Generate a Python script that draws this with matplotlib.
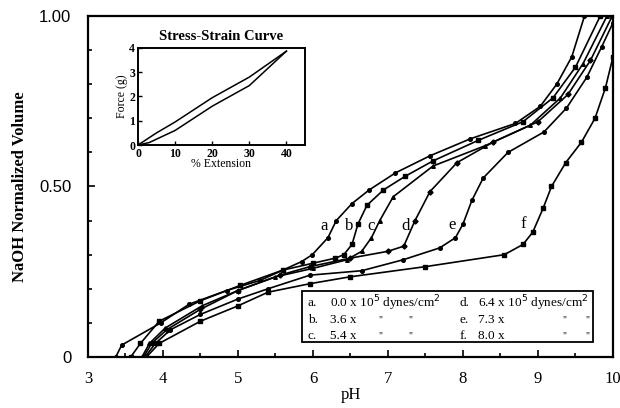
import matplotlib
matplotlib.use('Agg')
import matplotlib.pyplot as plt
from matplotlib.ticker import MultipleLocator, FixedLocator

plt.rcParams['font.family'] = ['Liberation Serif', 'DejaVu Serif']

# titration curves, pH vs NaOH normalized volume
ph_a = [3.37, 3.45, 3.97, 4.35, 4.85, 5.3, 5.6, 5.85, 5.99, 6.2, 6.31, 6.52,
        6.75, 7.1, 7.56, 8.1, 8.7, 9.03, 9.25, 9.45, 9.62]
vol_a = [0.0, 0.035, 0.10, 0.155, 0.195, 0.225, 0.255, 0.28, 0.30, 0.35, 0.40,
         0.45, 0.49, 0.54, 0.59, 0.64, 0.685, 0.735, 0.80, 0.88, 1.0]

ph_b = [3.57, 3.7, 3.95, 4.5, 5.03, 5.6, 6.0, 6.3, 6.41, 6.52, 6.6, 6.72,
        6.94, 7.23, 7.6, 8.2, 8.8, 9.2, 9.5, 9.83]
vol_b = [0.0, 0.04, 0.105, 0.165, 0.21, 0.255, 0.275, 0.29, 0.30, 0.33, 0.39,
         0.445, 0.49, 0.53, 0.575, 0.635, 0.69, 0.76, 0.85, 1.0]

ph_c = [3.72, 3.82, 4.03, 4.52, 5.0, 5.5, 6.0, 6.45, 6.65, 6.78, 6.89, 7.07,
        7.6, 8.3, 8.9, 9.3, 9.6, 9.92]
vol_c = [0.0, 0.04, 0.085, 0.15, 0.195, 0.235, 0.26, 0.285, 0.31, 0.35, 0.40,
         0.47, 0.56, 0.62, 0.68, 0.76, 0.86, 1.0]

ph_d = [3.74, 3.85, 4.05, 4.5, 5.0, 5.56, 5.96, 6.5, 7.0, 7.21, 7.36, 7.56,
        7.92, 8.4, 9.0, 9.4, 9.7, 9.99]
vol_d = [0.0, 0.04, 0.08, 0.14, 0.195, 0.24, 0.265, 0.29, 0.31, 0.325, 0.40,
         0.485, 0.57, 0.63, 0.69, 0.77, 0.87, 1.0]

ph_e = [3.76, 3.9, 4.1, 4.5, 5.0, 5.4, 5.96, 6.65, 7.2, 7.69, 7.9, 8.0, 8.12,
        8.27, 8.6, 9.08, 9.38, 9.65, 9.85, 10.0]
vol_e = [0.0, 0.04, 0.08, 0.125, 0.17, 0.2, 0.24, 0.253, 0.285, 0.32, 0.35,
         0.39, 0.46, 0.525, 0.60, 0.66, 0.73, 0.82, 0.91, 0.98]

ph_f = [3.78, 3.95, 4.5, 5.0, 5.4, 5.96, 6.49, 7.5, 8.55, 8.8, 8.93, 9.07,
        9.18, 9.37, 9.58, 9.76, 9.9, 10.0]
vol_f = [0.0, 0.04, 0.105, 0.15, 0.19, 0.215, 0.235, 0.265, 0.30, 0.33, 0.366,
         0.437, 0.50, 0.57, 0.63, 0.70, 0.79, 0.88]

curve_labels = ['a', 'b', 'c', 'd', 'e', 'f']
label_ph = [6.15, 6.48, 6.77, 7.23, 7.85, 8.8]
label_vol = [0.385, 0.385, 0.385, 0.385, 0.387, 0.39]

legend_rows = [('a.', '0.0 x 10$^5$ dynes/cm$^2$', 'd.', '6.4 x 10$^5$ dynes/cm$^2$'),
               ('b.', '3.6 x', 'e.', '7.3 x'),
               ('c.', '5.4 x', 'f.', '8.0 x')]

# inset stress-strain loop
ext_up = [0, 1, 5, 10, 20, 30, 40]
force_up = [0, 0.1, 0.5, 0.95, 1.95, 2.8, 3.87]
ext_down = [0, 3, 10, 20, 30, 40]
force_down = [0, 0.1, 0.6, 1.6, 2.45, 3.87]

fig = plt.figure(figsize=(6.2, 4.08), dpi=100)
ax = fig.add_axes([0.1419, 0.125, 0.8468, 0.8358])

series = [(ph_a, vol_a, 'o'), (ph_b, vol_b, 's'), (ph_c, vol_c, '^'),
          (ph_d, vol_d, 'D'), (ph_e, vol_e, 'o'), (ph_f, vol_f, 's')]
for xs, ys, m in series:
    ax.plot(xs, ys, color='black', lw=1.2, marker=m, ms=2.6)

for lab, lx, ly in zip(curve_labels, label_ph, label_vol):
    ax.text(lx, ly, lab, fontsize=12, ha='center', va='center')

ax.set_xlim(3, 10)
ax.set_ylim(0, 1.0)
ax.xaxis.set_major_locator(MultipleLocator(1))
ax.xaxis.set_minor_locator(MultipleLocator(0.5))
ax.yaxis.set_major_locator(FixedLocator([0, 0.5, 1.0]))
ax.yaxis.set_minor_locator(MultipleLocator(0.1))
ax.set_yticklabels(['0', '0.50', '1.00'], family='Liberation Sans', fontsize=12)
for t in ax.get_xticklabels():
    t.set_fontsize(12)
ax.tick_params(which='both', direction='in', width=1.2)
ax.tick_params(which='major', length=5)
ax.tick_params(which='minor', length=3)
ax.tick_params(axis='x', pad=10)
ax.tick_params(axis='y', pad=12)
for s in ax.spines.values():
    s.set_linewidth(1.6)
ax.set_xlabel('pH', fontsize=12, labelpad=0)
ax.set_ylabel('NaOH Normalized Volume', fontsize=12, fontweight='bold',
              labelpad=8)

# legend box
ax.add_patch(plt.Rectangle((5.85, 0.044), 3.89, 0.15, fill=False, lw=1.3,
                           transform=ax.transData, zorder=3))
row_y = [0.157, 0.108, 0.063]
for (l1, t1, l2, t2), ry in zip(legend_rows, row_y):
    ax.text(5.93, ry, l1, fontsize=9.5, va='center')
    ax.text(6.23, ry, t1, fontsize=9.5, va='center')
    ax.text(7.95, ry, l2, fontsize=9.5, va='center')
    ax.text(8.2, ry, t2, fontsize=9.5, va='center')
    if ry != row_y[0]:
        for qx in (6.87, 7.27, 9.33, 9.63):
            ax.text(qx, ry, '"', fontsize=7, va='center')

# inset
ins = fig.add_axes([0.2226, 0.6446, 0.2693, 0.2378])
ins.plot(ext_up, force_up, color='black', lw=1.1)
ins.plot(ext_down, force_down, color='black', lw=1.1)
ins.set_xlim(0, 45)
ins.set_ylim(0, 4)
ins.xaxis.set_major_locator(FixedLocator([0, 10, 20, 30, 40]))
ins.yaxis.set_major_locator(MultipleLocator(1))
ins.tick_params(direction='in', length=3, width=1, labelsize=8.5, pad=2)
for t in ins.get_xticklabels() + ins.get_yticklabels():
    t.set_fontweight('bold')
for s in ins.spines.values():
    s.set_linewidth(1.4)
ins.set_title('Stress-Strain Curve', fontsize=10.5, fontweight='bold', pad=6)
ins.set_xlabel('% Extension', fontsize=8.5, labelpad=-1)
ins.set_ylabel('Force (g)', fontsize=8.5, labelpad=1)

fig.savefig('out.png', dpi=100)
